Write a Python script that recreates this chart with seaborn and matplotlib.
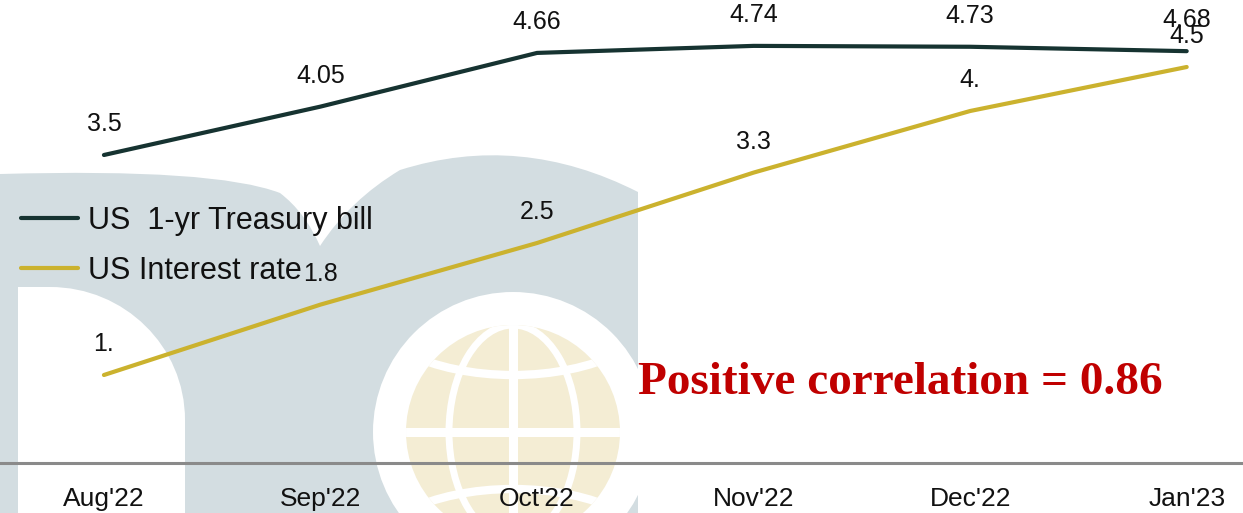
import matplotlib
matplotlib.use("Agg")
import matplotlib.pyplot as plt
from matplotlib.patches import PathPatch, Ellipse, Arc
from matplotlib.lines import Line2D
from matplotlib.path import Path
import pandas as pd
import seaborn as sns

# ---- data ----
months = ["Aug'22", "Sep'22", "Oct'22", "Nov'22", "Dec'22", "Jan'23"]
tbill = [3.5, 4.05, 4.66, 4.74, 4.73, 4.68]
rate = [1.0, 1.8, 2.5, 3.3, 4.0, 4.5]
tbill_labels = ["3.5", "4.05", "4.66", "4.74", "4.73", "4.68"]
rate_labels = ["1.", "1.8", "2.5", "3.3", "4.", "4.5"]
series_names = ["US  1-yr Treasury bill", "US Interest rate"]
series_colors = ["#163331", "#cbb22e"]
note = "Positive correlation = 0.86"

W, H = 1243, 513

sns.set_theme(style="white")
plt.rcParams["font.family"] = ["Liberation Sans", "DejaVu Sans"]

fig = plt.figure(figsize=(W / 100, H / 100), dpi=100)
fig.patch.set_facecolor("white")


def fx(x):
    return x / W


def fy(y):
    return 1 - y / H


def pt(x, y):
    return (fx(x), fy(y))


# ---- background logo watermark ----
wm_grey = "#d3dde1"
wm_gold = "#f4edd4"

verts = [pt(0, 513), pt(0, 174),
         pt(215, 168), pt(280, 193),
         pt(305, 212), pt(320, 246),
         pt(350, 200), pt(400, 170),
         pt(520, 132), pt(638, 192),
         pt(638, 513), pt(0, 513)]
codes = [Path.MOVETO, Path.LINETO,
         Path.CURVE3, Path.CURVE3,
         Path.CURVE3, Path.CURVE3,
         Path.CURVE3, Path.CURVE3,
         Path.CURVE3, Path.CURVE3,
         Path.LINETO, Path.CLOSEPOLY]
fig.add_artist(PathPatch(Path(verts, codes), facecolor=wm_grey, edgecolor="none",
                         transform=fig.transFigure, zorder=-10))

k = 0.5523
verts = [pt(18, 513), pt(18, 287), pt(50, 287),
         pt(50 + k * 135, 287), pt(185, 420 - k * 133), pt(185, 420),
         pt(185, 513), pt(18, 513)]
codes = [Path.MOVETO, Path.LINETO, Path.LINETO,
         Path.CURVE4, Path.CURVE4, Path.CURVE4,
         Path.LINETO, Path.CLOSEPOLY]
fig.add_artist(PathPatch(Path(verts, codes), facecolor="white", edgecolor="none",
                         transform=fig.transFigure, zorder=-9))

gx, gy, gr = 513, 432, 107
fig.add_artist(Ellipse(pt(gx, gy), 2 * 140 / W, 2 * 140 / H, facecolor="white",
                       edgecolor="none", transform=fig.transFigure, zorder=-8))
globe = Ellipse(pt(gx, gy), 2 * gr / W, 2 * gr / H, facecolor=wm_gold,
                edgecolor="none", transform=fig.transFigure, zorder=-7)
fig.add_artist(globe)

grid = [
    Line2D([fx(gx), fx(gx)], [fy(gy - gr - 5), fy(gy + gr + 5)], lw=6.5, color="white"),
    Line2D([fx(gx - gr - 5), fx(gx + gr + 5)], [fy(gy), fy(gy)], lw=6.5, color="white"),
    Ellipse(pt(gx, gy), 2 * 64 / W, 2 * gr / H, fill=False, edgecolor="white", lw=5),
    Arc(pt(gx, 300), 300 / W, 150 / H, theta1=180, theta2=360, edgecolor="white", lw=6),
    Arc(pt(gx, 564), 300 / W, 150 / H, theta1=0, theta2=180, edgecolor="white", lw=6),
]
for art in grid:
    art.set_transform(fig.transFigure)
    art.set_zorder(-6)
    fig.add_artist(art)
    art.set_clip_path(globe)

# ---- chart ----
ax = fig.add_axes([0, 50 / H, 1, 463 / H])
ax.patch.set_alpha(0)

df = pd.DataFrame({
    "month": months * 2,
    "value": tbill + rate,
    "series": [series_names[0]] * len(months) + [series_names[1]] * len(months),
})
sns.lineplot(data=df, x="month", y="value", hue="series", sort=False,
             palette=dict(zip(series_names, series_colors)),
             lw=3, solid_capstyle="round", ax=ax)

for vals, labs in ((tbill, tbill_labels), (rate, rate_labels)):
    for i, (v, lab) in enumerate(zip(vals, labs)):
        ax.annotate(lab, (i, v), xytext=(0, 24), textcoords="offset pixels",
                    ha="center", va="baseline", fontsize=18, color="#111111")

ax.set_xlim(-0.48, 5.26)
ax.set_ylim(0, 463 / 88)
ax.set_yticks([])
ax.set_xlabel("")
ax.set_ylabel("")
ax.tick_params(axis="x", length=0, pad=17, labelsize=19, labelcolor="#111111")
for side in ("top", "left", "right"):
    ax.spines[side].set_visible(False)
ax.spines["bottom"].set_color("#8a8a8a")
ax.spines["bottom"].set_linewidth(2.2)

handles, labels = ax.get_legend_handles_labels()
leg = ax.legend(handles, labels, loc="upper left", bbox_to_anchor=(fx(21), fy(206)),
                bbox_transform=fig.transFigure, frameon=False, fontsize=22,
                handlelength=1.85, handletextpad=0.35, labelspacing=0.64,
                borderpad=0, borderaxespad=0)
for t in leg.get_texts():
    t.set_color("#111111")

fig.text(fx(900), fy(394), note, ha="center", va="baseline", fontsize=34,
         fontweight="bold", color="#c00000",
         family=["Liberation Serif", "DejaVu Serif"])

fig.savefig("out.png", dpi=100)
